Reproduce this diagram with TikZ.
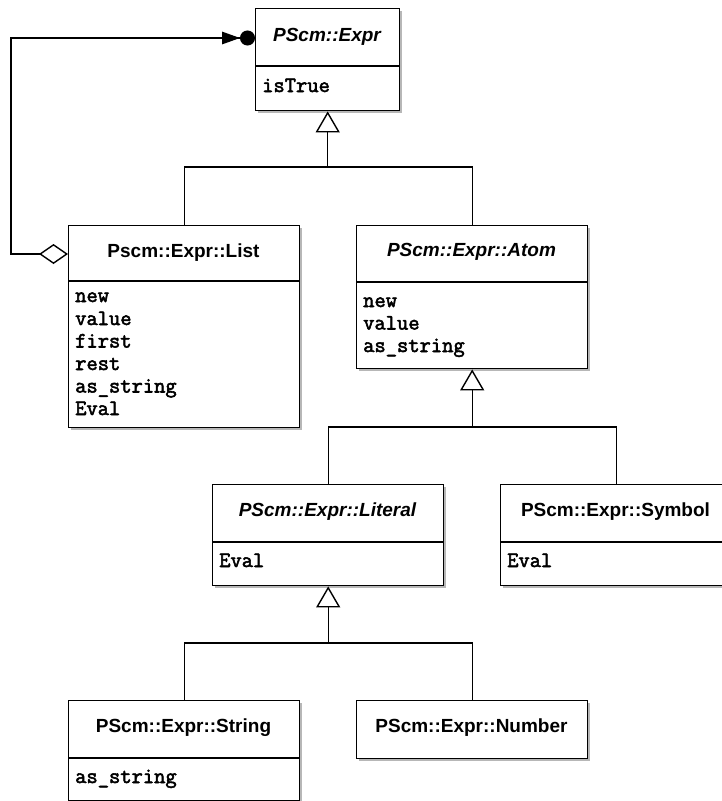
\documentclass[tikz,border=0pt]{standalone}
\usepackage{fontspec}
\newfontfamily\hfont{Liberation Sans}
\newfontfamily\attfont{Latin Modern Mono}[FakeBold=2.5]
\usetikzlibrary{arrows.meta,shadows}
\tikzset{
  cls/.style={draw, line width=1.4pt, fill=white, inner sep=0pt, anchor=north west,
    drop shadow={shadow xshift=2.5pt, shadow yshift=-2.5pt, fill=black!40, opacity=0.7}},
  ttl/.style={font=\hfont\bfseries\fontsize{19}{22}\selectfont, anchor=base, inner sep=0pt},
  ttli/.style={font=\hfont\bfseries\itshape\fontsize{19}{22}\selectfont, anchor=base, inner sep=0pt},
  att/.style={font=\attfont\fontsize{21.9}{22.5}\selectfont, anchor=base west, inner sep=0pt},
  conn/.style={line width=1.4pt},
  inh/.style={conn, -{Triangle[open, length=21pt, width=24pt]}},
  sep/.style={line width=1.4pt},
}
\begin{document}
\begin{tikzpicture}[x=1pt, y=-1pt]
\useasboundingbox (0,0) rectangle (722,801);
\clip (0,0) rectangle (722,801);
% boxes
\node[cls, minimum width=144pt, minimum height=102pt] (expr) at (255,8) {};
\node[cls, minimum width=231pt, minimum height=202pt] (list) at (68,225) {};
\node[cls, minimum width=231pt, minimum height=143pt] (atom) at (356,225) {};
\node[cls, minimum width=231pt, minimum height=101pt] (literal) at (212,484) {};
\node[cls, minimum width=231pt, minimum height=101pt] (symbol) at (500,484) {};
\node[cls, minimum width=231pt, minimum height=100pt] (string) at (68,700) {};
\node[cls, minimum width=231pt, minimum height=58pt] (number) at (356,700) {};
% dividers
\draw[sep] (expr.west |- 0,66) -- (expr.east |- 0,66);
\draw[sep] (list.west |- 0,281) -- (list.east |- 0,281);
\draw[sep] (atom.west |- 0,282) -- (atom.east |- 0,282);
\draw[sep] (literal.west |- 0,542) -- (literal.east |- 0,542);
\draw[sep] (symbol.west |- 0,542) -- (symbol.east |- 0,542);
\draw[sep] (string.west |- 0,758) -- (string.east |- 0,758);
% titles
\node[ttli] (exprT) at (327,41) {PScm::Expr};
\node[ttl] (listT) at (183.5,257) {Pscm::Expr::List};
\node[ttli] (atomT) at (471.5,256) {PScm::Expr::Atom};
\node[ttli] (litT) at (327.5,516) {PScm::Expr::Literal};
\node[ttl] (symT) at (615.5,516) {PScm::Expr::Symbol};
\node[ttl] (strT) at (183.5,732) {PScm::Expr::String};
\node[ttl] (numT) at (471.5,732) {PScm::Expr::Number};
% attributes
\node[att] (e1) at (262,92) {isTrue};
\node[att] (l1) at (75,302) {new};
\node[att] (l2) at (75,325) {value};
\node[att] (l3) at (75,347.5) {first};
\node[att] (l4) at (75,370) {rest};
\node[att] (l5) at (75,392.5) {as\_string};
\node[att] (l6) at (75,415) {Eval};
\node[att] (a1) at (363,307) {new};
\node[att] (a2) at (363,329.5) {value};
\node[att] (a3) at (363,352) {as\_string};
\node[att] (t1) at (219,567) {Eval};
\node[att] (s1) at (507,567) {Eval};
\node[att] (g1) at (75,783) {as\_string};
% generalisations
\coordinate (j1) at (expr.south |- 0,167);
\draw[inh] (list.north) |- (j1) -- (expr.south);
\draw[conn] (atom.north) |- (j1);
\coordinate (j2) at (atom.south |- 0,427);
\draw[inh] (literal.north) |- (j2) -- (atom.south);
\draw[conn] (symbol.north) |- (j2);
\coordinate (j3) at (literal.south |- 0,643);
\draw[inh] (string.north) |- (j3) -- (literal.south);
\draw[conn] (number.north) |- (j3);
% aggregation
\coordinate (aggS) at (list.west |- 0,254);
\coordinate (aggE) at (expr.west |- 0,38);
\coordinate (bend) at (11,38);
\draw[conn, {Diamond[open, length=29pt, width=20pt]}-{Triangle[length=18pt, width=12.5pt] Circle[length=15pt, width=15pt]}] (aggS) -| (bend) -- (aggE);
\end{tikzpicture}
\end{document}
